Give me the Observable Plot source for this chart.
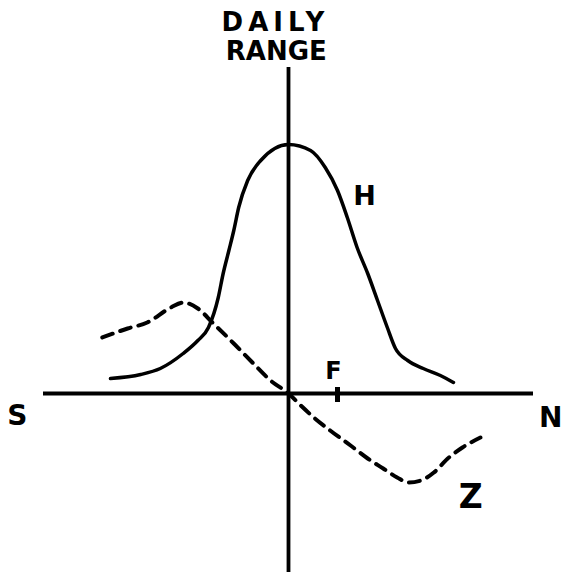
<!DOCTYPE html>
<html><head><meta charset="utf-8">
<script src="https://cdn.jsdelivr.net/npm/d3@7"></script>
<script src="https://cdn.jsdelivr.net/npm/@observablehq/plot@0.6"></script>
<style>body{margin:0;background:#fff}</style>
</head><body><div id="chart"></div>
<script>
// H curve (daily range of horizontal component) — position S..N, value
const hX = [-21.8,-18.1,-15.7,-12.9,-11.1,-9.8,-8.6,-8.0,-7.3,-6.7,-6.1,-5.0,-3.4,0,2.7,4.5,6.0,7.2,8.4,9.7,10.9,12.1,13.1,14.6,16.5,18.6,20.2];
const hY = [1.5,1.9,2.5,4.0,5.3,6.6,9.6,12.0,14.3,16.3,18.6,21.3,23.3,24.9,24.3,22.6,20.3,17.6,14.6,12.0,9.3,6.6,4.5,3.3,2.5,1.8,1.1];
// Z curve (dashed)
const zX = [-22.8,-19.7,-17.3,-14.4,-12.9,-11.1,-9.2,-6.7,-4.3,-2.2,0,1.5,3.1,5.1,7.6,9.7,11.6,13.3,14.7,16.2,17.8,19.5,21.3,23.5];
const zY = [5.6,6.5,7.1,8.6,9.1,8.5,7.0,5.0,3.0,1.3,0,-1.2,-2.4,-3.7,-5.2,-6.5,-7.5,-8.4,-8.9,-8.7,-7.9,-6.5,-5.4,-4.4];
// labels
const labelText = ["DAILY","RANGE","S","N","H","Z","F"];
const labelX = [-1.6,-1.5,-33.2,32.1,9.3,22.3,5.5];
const labelY = [37.1,34.2,-2.3,-2.5,19.7,-10.4,2.2];
const labelSize = [26,26,28,28,27,33,24];
const labelSpacing = [5,0,0,0,0,0,0];
const fTick = 6.0;

const H = hX.map((x,i)=>({x, y:hY[i]}));
const Z = zX.map((x,i)=>({x, y:zY[i]}));
const labels = labelText.map((t,i)=>({t, x:labelX[i], y:labelY[i], s:labelSize[i], ls:labelSpacing[i]}));

const chart = Plot.plot({
  width: 565, height: 572,
  marginLeft: 43, marginRight: 32, marginTop: 67, marginBottom: 0,
  x: {domain: [-30, 30], axis: null},
  y: {domain: [-17.9, 32.6], axis: null},
  style: {background: "#fff"},
  marks: [
    Plot.ruleY([0], {x1: -30, x2: 30, stroke: "#000", strokeWidth: 3.8}),
    Plot.ruleX([0], {y1: -17.9, y2: 32.6, stroke: "#000", strokeWidth: 3.8}),
    Plot.ruleX([fTick], {y1: -0.9, y2: 0.6, stroke: "#000", strokeWidth: 5}),
    Plot.line(H, {x: "x", y: "y", curve: "monotone-x", stroke: "#000", strokeWidth: 3.5, strokeLinecap: "round"}),
    Plot.line(Z, {x: "x", y: "y", curve: "monotone-x", stroke: "#000", strokeWidth: 4, strokeDasharray: "11,8", strokeLinecap: "round"}),
    Plot.text(labels, {x: "x", y: "y", text: "t", fontSize: d => d.s, fontWeight: "bold", fill: "#000",
      fontFamily: "DejaVu Sans", textAnchor: "middle", lineAnchor: "middle"})
  ]
});
// letter spacing for the hand-lettered title word
d3.select(chart).selectAll("text").each(function() {
  const t = this.textContent;
  const i = labelText.indexOf(t);
  if (i >= 0 && labelSpacing[i]) this.setAttribute("letter-spacing", labelSpacing[i]);
});
document.getElementById("chart").appendChild(chart);
</script></body></html>
